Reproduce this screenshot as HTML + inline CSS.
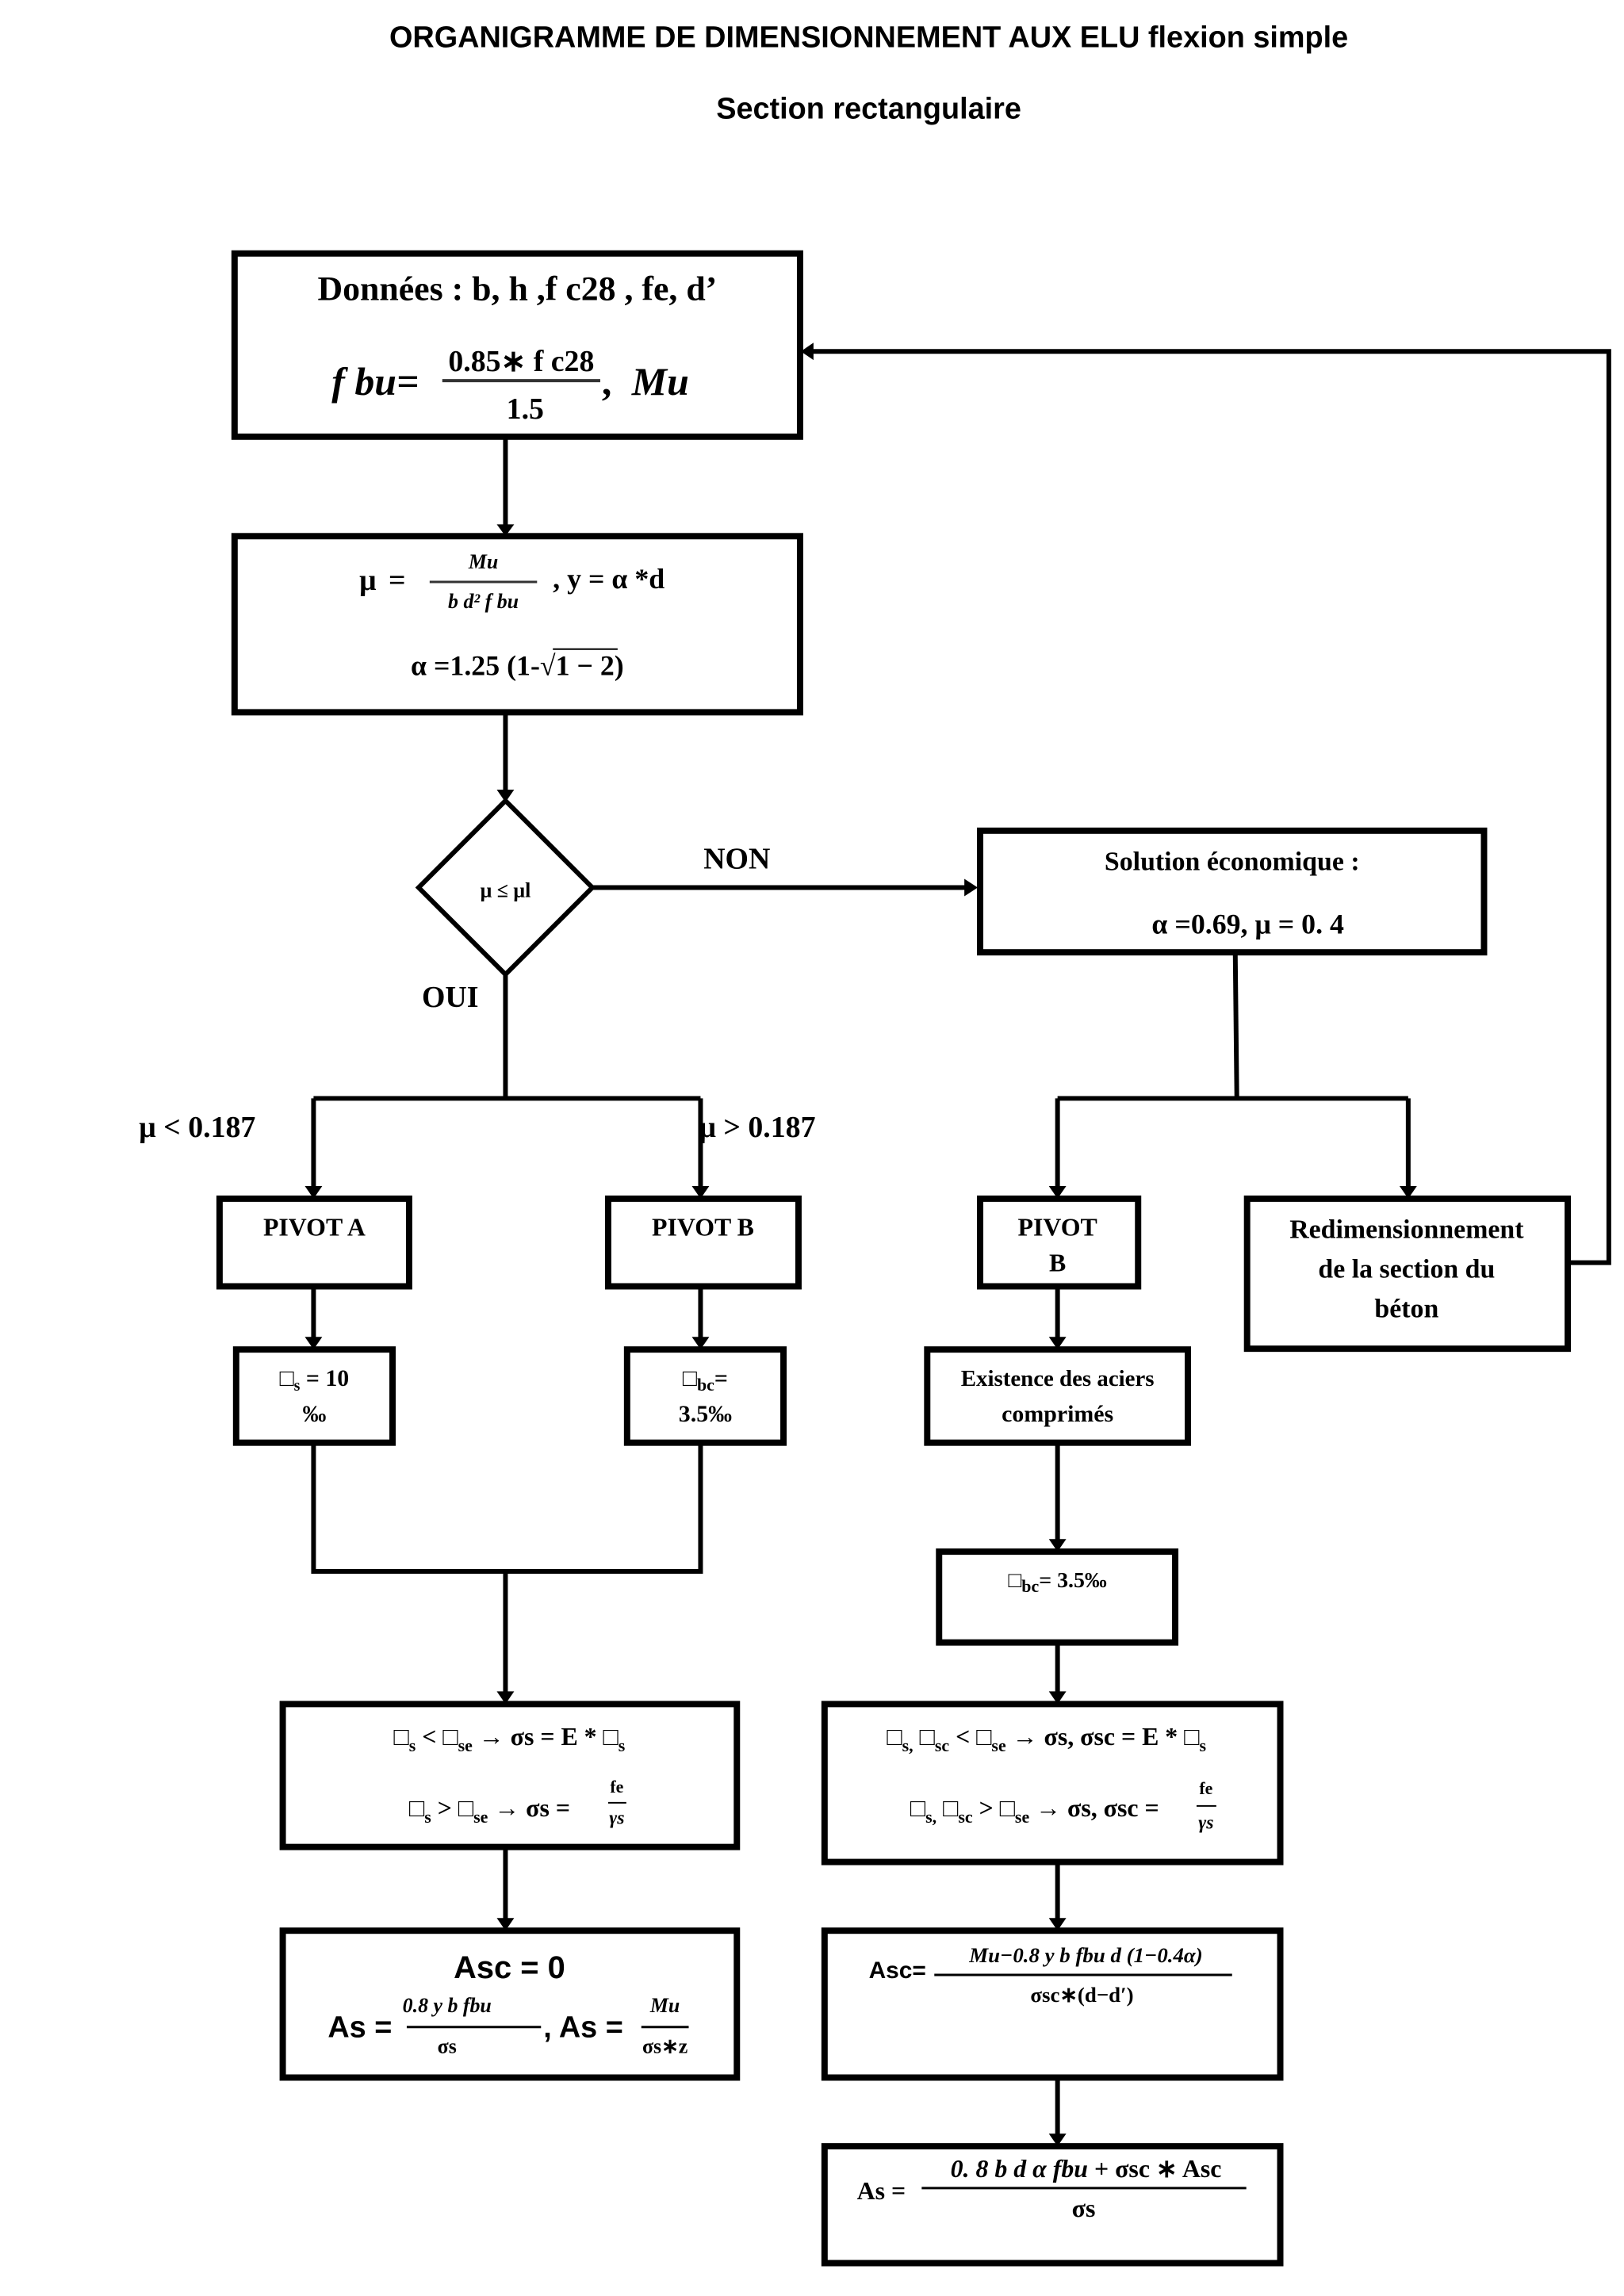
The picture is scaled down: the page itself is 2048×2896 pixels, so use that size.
<!DOCTYPE html>
<html><head><meta charset="utf-8"><style>
html,body{margin:0;padding:0;background:#fff}
svg{display:block}
text{font-family:"Liberation Serif",serif;font-weight:bold;fill:#000}
.s{font-family:"Liberation Sans",sans-serif}
</style></head><body>
<svg width="2048" height="2896" viewBox="0 0 2048 2896" xmlns="http://www.w3.org/2000/svg">
<g transform="scale(0.996)">
<g fill="none" stroke="#000">
<g stroke-width="8">
<rect x="297" y="321" width="716" height="232"/>
<rect x="297" y="679" width="716" height="223"/>
<rect x="1241" y="1052" width="638" height="154"/>
<rect x="278" y="1518" width="240" height="111"/>
<rect x="770" y="1518" width="241" height="111"/>
<rect x="1241" y="1518" width="200" height="111"/>
<rect x="1579" y="1518" width="406" height="190"/>
<rect x="299" y="1709" width="198" height="118"/>
<rect x="794" y="1709" width="198" height="118"/>
<rect x="1174" y="1709" width="330" height="118"/>
<rect x="1189" y="1965" width="299" height="115"/>
<rect x="358" y="2158" width="575" height="181"/>
<rect x="1044" y="2158" width="577" height="200"/>
<rect x="358" y="2445" width="575" height="186"/>
<rect x="1044" y="2445" width="577" height="186"/>
<rect x="1044" y="2718" width="577" height="148"/>
</g>
<polygon points="640,1014 750,1124 640,1234 530,1124" stroke-width="6"/>
<g stroke-width="6">
<path d="M640 553 V668"/><path d="M640 902 V1010"/>
<path d="M750 1124 H1225"/>
<path d="M640 1234 V1390"/>
<path d="M397 1391 H887"/><path d="M397 1391 V1506"/><path d="M887 1391 V1506"/>
<path d="M1564 1206 L1566 1391"/>
<path d="M1339 1391 H1783"/><path d="M1339 1391 V1506"/><path d="M1783 1391 V1506"/>
<path d="M1985 1599 H2037 V445 H1025"/>
<path d="M397 1629 V1697"/><path d="M887 1629 V1697"/><path d="M1339 1629 V1697"/>
<path d="M1339 1827 V1953"/>
<path d="M397 1827 V1990 H887 V1827"/>
<path d="M640 1990 V2146"/>
<path d="M1339 2080 V2146"/>
<path d="M640 2339 V2433"/>
<path d="M1339 2358 V2433"/>
<path d="M1339 2631 V2706"/>
</g>
</g>
<g>
<path d="M629 664 H651 L640 679z"/><path d="M629 1000 H651 L640 1016z"/>
<path d="M1221 1113 V1135 L1238 1124z"/>
<path d="M386 1502 H408 L397 1518z"/><path d="M876 1502 H898 L887 1518z"/>
<path d="M1328 1502 H1350 L1339 1518z"/><path d="M1772 1502 H1794 L1783 1518z"/>
<path d="M1030 434 V456 L1014 445z"/>
<path d="M386 1693 H408 L397 1709z"/><path d="M876 1693 H898 L887 1709z"/><path d="M1328 1693 H1350 L1339 1709z"/>
<path d="M1328 1949 H1350 L1339 1965z"/>
<path d="M629 2142 H651 L640 2158z"/><path d="M1328 2142 H1350 L1339 2158z"/>
<path d="M629 2429 H651 L640 2445z"/><path d="M1328 2429 H1350 L1339 2445z"/>
<path d="M1328 2702 H1350 L1339 2718z"/>
</g>
<text class="s" x="1100" y="60" font-size="38" text-anchor="middle" fill="#333">ORGANIGRAMME DE DIMENSIONNEMENT AUX ELU flexion simple</text>
<text class="s" x="1100" y="150" font-size="38" text-anchor="middle" fill="#333">Section rectangulaire</text>
<text x="655" y="380" font-size="44" text-anchor="middle" fill="#333">Données : b, h ,f c28 , fe, d’</text>
<text x="420" y="500" font-size="50" font-style="italic" fill="#333">f bu=</text>
<text x="660" y="470" font-size="38" text-anchor="middle" fill="#333">0.85∗ f c28</text>
<line x1="560" y1="482" x2="760" y2="482" stroke="#333" stroke-width="4"/>
<text x="665" y="530" font-size="38" text-anchor="middle" fill="#333">1.5</text>
<text x="762" y="500" font-size="50" fill="#333">,</text>
<text x="800" y="500" font-size="50" font-style="italic" fill="#333">Mu</text>
<text x="455" y="747" font-size="38">μ</text>
<text x="492" y="747" font-size="38">=</text>
<text x="612" y="720" font-size="26" font-style="italic" text-anchor="middle" fill="#333">Mu</text>
<line x1="544" y1="737" x2="680" y2="737" stroke="#333" stroke-width="3"/>
<text x="612" y="770" font-size="26" font-style="italic" text-anchor="middle" fill="#333">b d² f bu</text>
<text x="700" y="745" font-size="36">, y = α *d</text>
<text x="655" y="855" font-size="36" text-anchor="middle">α =1.25 (1-√1 − 2)</text>
<line x1="700" y1="822" x2="782" y2="822" stroke="#000" stroke-width="2"/>
<text x="640" y="1136" font-size="26" text-anchor="middle">μ ≤ μl</text>
<text x="933" y="1100" font-size="38" text-anchor="middle">NON</text>
<text x="570" y="1275" font-size="38" text-anchor="middle">OUI</text>
<text x="1560" y="1102" font-size="34" text-anchor="middle">Solution économique :</text>
<text x="1580" y="1182" font-size="36" text-anchor="middle">α =0.69, μ = 0. 4</text>
<text x="176" y="1440" font-size="38" font-weight="normal">μ &lt; 0.187</text>
<text x="885" y="1440" font-size="38" font-weight="normal">μ &gt; 0.187</text>
<text x="398" y="1565" font-size="32" text-anchor="middle">PIVOT A</text>
<text x="890" y="1565" font-size="32" text-anchor="middle">PIVOT B</text>
<text x="1339" y="1565" font-size="32" text-anchor="middle">PIVOT</text>
<text x="1339" y="1610" font-size="32" text-anchor="middle">B</text>
<text x="1781" y="1568" font-size="34" text-anchor="middle">Redimensionnement</text>
<text x="1781" y="1618" font-size="34" text-anchor="middle">de la section du</text>
<text x="1781" y="1668" font-size="34" text-anchor="middle">béton</text>
<text x="398" y="1755" font-size="30" text-anchor="middle">□<tspan font-size="20" dy="6">s</tspan><tspan dy="-6">  = 10</tspan></text>
<text x="398" y="1800" font-size="30" text-anchor="middle">‰</text>
<text x="893" y="1755" font-size="30" text-anchor="middle">□<tspan font-size="22" dy="6">bc</tspan><tspan dy="-6">=</tspan></text>
<text x="893" y="1800" font-size="30" text-anchor="middle">3.5‰</text>
<text x="1339" y="1755" font-size="29" text-anchor="middle">Existence des aciers</text>
<text x="1339" y="1800" font-size="30" text-anchor="middle">comprimés</text>
<text x="1339" y="2010" font-size="28" text-anchor="middle">□<tspan font-size="22" dy="6">bc</tspan><tspan dy="-6">= 3.5‰</tspan></text>
<text x="645" y="2210" font-size="32" text-anchor="middle" font-weight="normal">□<tspan font-size="22" dy="8">s</tspan><tspan dy="-8"> &lt; □</tspan><tspan font-size="22" dy="8">se</tspan><tspan dy="-8">  → </tspan><tspan font-weight="bold">σs = E * </tspan>□<tspan font-size="22" dy="8">s</tspan></text>
<text x="620" y="2300" font-size="32" text-anchor="middle" font-weight="normal">□<tspan font-size="22" dy="8">s</tspan><tspan dy="-8"> &gt; □</tspan><tspan font-size="22" dy="8">se</tspan><tspan dy="-8">  → </tspan><tspan font-weight="bold">σs =</tspan></text>
<text x="781" y="2270" font-size="22" text-anchor="middle">fe</text>
<line x1="770" y1="2283" x2="793" y2="2283" stroke="#000" stroke-width="2"/>
<text x="781" y="2310" font-size="24" font-style="italic" text-anchor="middle">γs</text>
<text x="1325" y="2210" font-size="32" text-anchor="middle" font-weight="normal">□<tspan font-size="22" dy="8">s,</tspan><tspan dy="-8"> □</tspan><tspan font-size="22" dy="8">sc</tspan><tspan dy="-8"> &lt; □</tspan><tspan font-size="22" dy="8">se</tspan><tspan dy="-8">  → </tspan><tspan font-weight="bold">σs, σsc = E * </tspan>□<tspan font-size="22" dy="8">s</tspan></text>
<text x="1310" y="2300" font-size="32" text-anchor="middle" font-weight="normal">□<tspan font-size="22" dy="8">s,</tspan><tspan dy="-8"> □</tspan><tspan font-size="22" dy="8">sc</tspan><tspan dy="-8"> &gt; □</tspan><tspan font-size="22" dy="8">se</tspan><tspan dy="-8">  → </tspan><tspan font-weight="bold">σs, σsc  =</tspan></text>
<text x="1527" y="2272" font-size="22" text-anchor="middle">fe</text>
<line x1="1515" y1="2287" x2="1540" y2="2287" stroke="#000" stroke-width="2"/>
<text x="1527" y="2316" font-size="24" font-style="italic" text-anchor="middle">γs</text>
<text class="s" x="645" y="2505" font-size="40" text-anchor="middle">Asc = 0</text>
<text class="s" x="415" y="2580" font-size="38">As =</text>
<text x="566" y="2548" font-size="26" font-style="italic" text-anchor="middle">0.8 y b  fbu</text>
<line x1="515" y1="2567" x2="685" y2="2567" stroke="#000" stroke-width="3"/>
<text x="566" y="2600" font-size="26" text-anchor="middle">σs</text>
<text class="s" x="688" y="2580" font-size="38">, As =</text>
<text x="842" y="2548" font-size="26" font-style="italic" text-anchor="middle">Mu</text>
<line x1="812" y1="2567" x2="872" y2="2567" stroke="#000" stroke-width="3"/>
<text x="842" y="2600" font-size="26" text-anchor="middle">σs∗z</text>
<text class="s" x="1100" y="2505" font-size="30">Asc=</text>
<text x="1375" y="2485" font-size="27" font-style="italic" text-anchor="middle">Mu−0.8 y b fbu d (1−0.4α)</text>
<line x1="1183" y1="2501" x2="1560" y2="2501" stroke="#000" stroke-width="3"/>
<text x="1370" y="2535" font-size="27" text-anchor="middle">σsc∗(d−d′)</text>
<text x="1085" y="2785" font-size="32">As =</text>
<text x="1375" y="2757" font-size="32" text-anchor="middle"><tspan font-style="italic">0. 8 b d α fbu</tspan> + σsc ∗ Asc</text>
<line x1="1167" y1="2771" x2="1578" y2="2771" stroke="#000" stroke-width="3"/>
<text x="1372" y="2807" font-size="32" text-anchor="middle">σs</text>
</g>
</svg>
</body></html>
